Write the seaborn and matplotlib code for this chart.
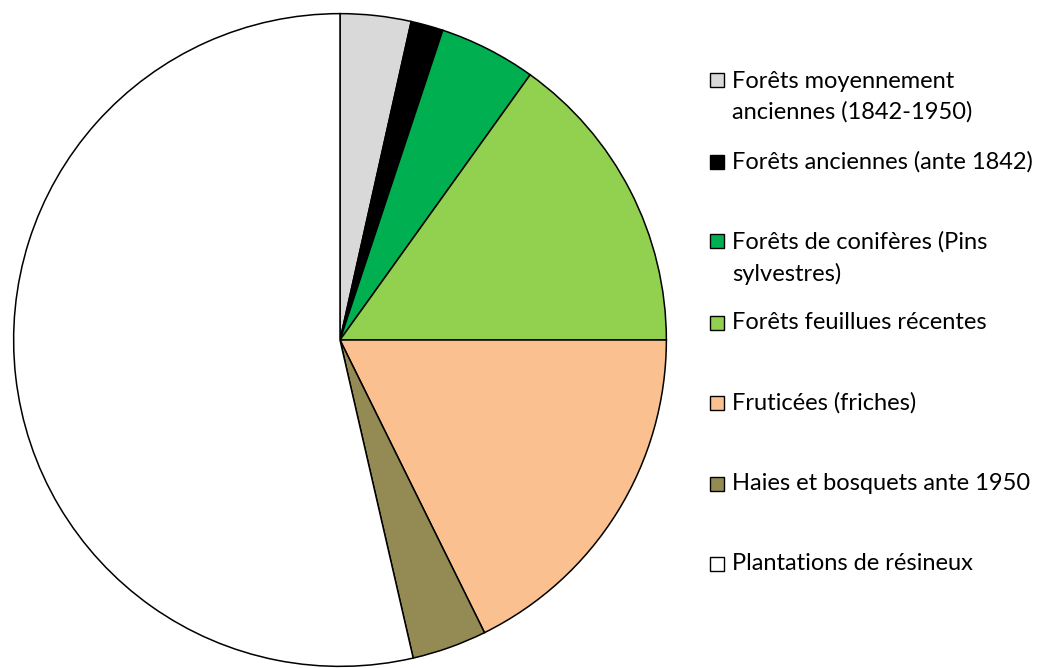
import matplotlib
matplotlib.use("Agg")
import matplotlib.pyplot as plt
from matplotlib.patches import Rectangle
import seaborn as sns

sns.set_style("white")
plt.rcParams['font.family'] = ['Lato', 'DejaVu Sans']

categories = [
    "Forêts moyennement\nanciennes (1842-1950)",
    "Forêts anciennes (ante 1842)",
    "Forêts de conifères (Pins\nsylvestres)",
    "Forêts feuillues récentes",
    "Fruticées (friches)",
    "Haies et bosquets ante 1950",
    "Plantations de résineux",
]
values = [3.5, 1.6, 4.8, 15.1, 17.7, 3.7, 53.6]
colors = ["#D9D9D9", "#000000", "#00B050", "#92D050", "#FAC090", "#948A54", "#FFFFFF"]

W, H = 1054, 668
fig = plt.figure(figsize=(W / 100, H / 100), dpi=100)
cx, cy, r = 340, 340, 328
ax = fig.add_axes([(cx - r) / W, (H - cy - r) / H, 2 * r / W, 2 * r / H])
ax.pie(values, colors=colors, startangle=90, counterclock=False, radius=1,
       wedgeprops=dict(edgecolor="black", linewidth=1.1))
ax.set_xlim(-1.005, 1.005)
ax.set_ylim(-1.005, 1.005)
ax.set_aspect("equal")
ax.axis("off")

# legend (manual layout, Excel style)
legend_y = [97, 162, 258, 323, 403, 484, 564]
for lab, col, y in zip(categories, colors, legend_y):
    nlines = lab.count("\n") + 1
    y_first = y - (nlines - 1) * 17
    fig.patches.append(Rectangle(((710) / W, (H - y_first - 7) / H), 14 / W, 14 / H,
                                 transform=fig.transFigure, facecolor=col,
                                 edgecolor="black", linewidth=1.0))
    fig.text(732 / W, (H - y) / H, lab, fontsize=17, va="center", ha="left",
             linespacing=1.55, color="black")

fig.savefig("out.png", dpi=100)
